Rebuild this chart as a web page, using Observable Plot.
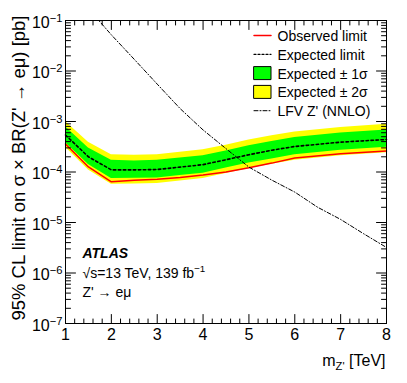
<!DOCTYPE html>
<html><head><meta charset="utf-8">
<script src="https://cdn.jsdelivr.net/npm/d3@7"></script>
<script src="https://cdn.jsdelivr.net/npm/@observablehq/plot@0.6"></script>
<style>
body{margin:0;background:#fff}
svg{font-family:"Liberation Sans",Arial,Helvetica,sans-serif}
</style>
</head><body><div id="chart"></div>
<script>
// ---- data ----
const mass      = [1, 1.5, 2, 2.5, 3, 3.5, 4, 4.5, 5, 5.5, 6, 7, 8];
const observed  = [3.6e-4, 1.26e-4, 6.4e-5, 6.9e-5, 7.2e-5, 7.8e-5, 8.7e-5, 1.0e-4, 1.22e-4, 1.5e-4, 1.9e-4, 2.3e-4, 2.6e-4];
const expected  = [5.4e-4, 2.0e-4, 1.1e-4, 1.1e-4, 1.12e-4, 1.25e-4, 1.4e-4, 1.75e-4, 2.2e-4, 2.7e-4, 3.2e-4, 3.9e-4, 4.4e-4];
const exp1Up    = [7.9e-4, 3.0e-4, 1.7e-4, 1.65e-4, 1.7e-4, 1.9e-4, 2.1e-4, 2.6e-4, 3.3e-4, 4.0e-4, 4.8e-4, 5.9e-4, 6.8e-4];
const exp1Down  = [3.8e-4, 1.4e-4, 7.4e-5, 7.5e-5, 7.6e-5, 8.5e-5, 9.5e-5, 1.2e-4, 1.5e-4, 1.8e-4, 2.2e-4, 2.7e-4, 3.1e-4];
const exp2Up    = [1.0e-3, 3.9e-4, 2.2e-4, 2.15e-4, 2.2e-4, 2.45e-4, 2.75e-4, 3.4e-4, 4.3e-4, 5.2e-4, 6.2e-4, 7.6e-4, 8.8e-4];
const exp2Down  = [3.1e-4, 1.1e-4, 5.7e-5, 5.8e-5, 5.9e-5, 6.6e-5, 7.4e-5, 9.3e-5, 1.17e-4, 1.43e-4, 1.7e-4, 2.1e-4, 2.4e-4];

const lfvMass   = [1.65, 2.0, 2.5, 3.0, 3.5, 4.0, 4.5, 5.0, 5.5, 6.0, 6.5, 7.0, 7.5, 8.0];
const lfvXsec   = [1.2e-1, 5.2e-2, 1.7e-2, 5.5e-3, 1.8e-3, 6.8e-4, 2.9e-4, 1.25e-4, 6.9e-5, 4.0e-5, 2.0e-5, 1.15e-5, 6.0e-6, 3.2e-6];

const xTickValues    = [1, 2, 3, 4, 5, 6, 7, 8];
const yTickExponents = [-7, -6, -5, -4, -3, -2, -1];

const legendLabels = ["Observed limit", "Expected limit", "Expected ± 1σ", "Expected ± 2σ", "LFV Z' (NNLO)"];
const yTitle = "95% CL limit on σ × BR(Z' → eμ) [pb]";
const xTitle = "m_{Z'} [TeV]";
const atlasLines = ["ATLAS", "√s=13 TeV, 139 fb^{-1}", "Z' → eμ"];

// ---- tables ----
const rows = mass.map((m, i) => ({m, obs: observed[i], exp: expected[i], u1: exp1Up[i], d1: exp1Down[i], u2: exp2Up[i], d2: exp2Down[i]}));
const lfv = lfvMass.map((m, i) => ({m, v: lfvXsec[i]}));
const yMajor = yTickExponents.map(e => Math.pow(10, e));
const yMinor = [];
yTickExponents.slice(0, -1).forEach(e => { for (let k = 2; k <= 9; k++) yMinor.push(k * Math.pow(10, e)); });
const xMinor = [];
for (let i = 0; i < xTickValues.length - 1; i++) for (let k = 1; k <= 4; k++) xMinor.push(+(xTickValues[i] + k * 0.2).toFixed(2));

const lineShape = {draw(ctx) { ctx.moveTo(-8.5, 0); ctx.lineTo(8.5, 0); }};
const boxShape  = {draw(ctx) { ctx.rect(-8.5, -6.5, 17, 13); }};
const tickShape = {draw(ctx, l) { ctx.moveTo(0, 0); ctx.lineTo(0, -l); }};

const LX = -124, TX = -109, LY0 = 15, LDY = 18.8;
const one = [0];
const legendSym = [
  {shape: lineShape, stroke: "#ff0000", strokeWidth: 1.5},
  {shape: lineShape, stroke: "#000", strokeWidth: 1.3, strokeDasharray: "2,2"},
  {shape: boxShape, stroke: "#000", strokeWidth: 1, fill: "#00ff00"},
  {shape: boxShape, stroke: "#000", strokeWidth: 1, fill: "#ffff00"},
  {shape: lineShape, stroke: "#000", strokeWidth: 1, strokeDasharray: "4,2,1,2"}
];

const tick = (data, chan, anchor, rot, len) =>
  Plot.vector(data, {[chan]: d => d, frameAnchor: anchor, rotate: rot, length: len, anchor: "start", shape: tickShape, stroke: "#000", strokeWidth: 1});

const marks = [
  Plot.areaY(rows, {x: "m", y1: "d2", y2: "u2", fill: "#ffff00"}),
  Plot.areaY(rows, {x: "m", y1: "d1", y2: "u1", fill: "#00ff00"}),
  Plot.line(rows, {x: "m", y: "obs", stroke: "#ff0000", strokeWidth: 1.5}),
  Plot.line(rows, {x: "m", y: "exp", stroke: "#000", strokeWidth: 1.6, strokeDasharray: "2.5,2.5"}),
  Plot.line(lfv, {x: "m", y: "v", stroke: "#000", strokeWidth: 1, strokeDasharray: "4,2,1,2", clip: true}),
  Plot.frame({stroke: "#000", strokeWidth: 1}),
  // ticks (inside, all four sides)
  tick(yMajor, "y", "left", 90, 10), tick(yMinor, "y", "left", 90, 5),
  tick(yMajor, "y", "right", -90, 10), tick(yMinor, "y", "right", -90, 5),
  tick(xTickValues, "x", "bottom", 0, 9), tick(xMinor, "x", "bottom", 0, 4.5),
  tick(xTickValues, "x", "top", 180, 9), tick(xMinor, "x", "top", 180, 4.5),
  // tick labels
  Plot.text(yMajor, {y: d => d, frameAnchor: "left", dx: -3, dy: 2, textAnchor: "end", lineAnchor: "middle", text: (d, i) => "10^{" + yTickExponents[i] + "}", fontSize: 16, fill: "#000", className: "rich"}),
  Plot.text(xTickValues, {x: d => d, frameAnchor: "bottom", dy: 11, lineAnchor: "middle", text: d => String(d), fontSize: 16, fill: "#000"}),
  // axis titles
  Plot.text([xTitle], {frameAnchor: "bottom-right", dx: -1, dy: 42, textAnchor: "end", lineAnchor: "bottom", text: d => d, fontSize: 16, fill: "#000", className: "rich"}),
  Plot.text([yTitle], {frameAnchor: "top-left", dx: -41, dy: -5, rotate: -90, textAnchor: "end", lineAnchor: "bottom", text: d => d, fontSize: 18.5, fill: "#000"}),
  // ATLAS label
  Plot.text([atlasLines[0]], {frameAnchor: "bottom-left", dx: 17, dy: -66, textAnchor: "start", lineAnchor: "bottom", text: d => d, fontSize: 14, fontWeight: "bold", fontStyle: "italic", fill: "#000"}),
  Plot.text([atlasLines[1]], {frameAnchor: "bottom-left", dx: 17, dy: -46, textAnchor: "start", lineAnchor: "bottom", text: d => d, fontSize: 14, fill: "#000", className: "rich"}),
  Plot.text([atlasLines[2]], {frameAnchor: "bottom-left", dx: 17, dy: -27, textAnchor: "start", lineAnchor: "bottom", text: d => d, fontSize: 14, fill: "#000"}),
  // legend
  ...legendSym.map((s, i) => Plot.vector(one, {frameAnchor: "top-right", dx: LX, dy: LY0 + i * LDY, anchor: "start", ...s})),
  ...legendLabels.map((lab, i) => Plot.text([lab], {frameAnchor: "top-right", dx: TX, dy: LY0 + i * LDY + 1, textAnchor: "start", lineAnchor: "middle", text: d => d, fontSize: 14, fill: "#000"}))
];

const svg = Plot.plot({
  width: 407, height: 383,
  marginLeft: 65, marginRight: 21, marginTop: 20, marginBottom: 60,
  x: {domain: [1, 8], axis: null},
  y: {type: "log", domain: [1e-7, 1e-1], axis: null},
  style: {fontFamily: "'Liberation Sans', Arial, Helvetica, sans-serif", background: "white", overflow: "visible"},
  marks
});

// rich text: ^{..} superscripts and _{..} subscripts
d3.select(svg).selectAll("g.rich text").each(function() {
  const el = d3.select(this);
  const s = el.text();
  if (!/[\^_]\{/.test(s)) return;
  const parts = s.split(/([\^_]\{[^}]*\})/).filter(p => p.length);
  el.text("");
  let shift = 0;
  for (const p of parts) {
    const m = p.match(/^([\^_])\{([^}]*)\}$/);
    if (m) {
      const target = m[1] === "^" ? -6 : 4;
      el.append("tspan").attr("dy", target - shift).attr("font-size", "0.7em").text(m[2].replace("-", "−"));
      shift = target;
    } else {
      const ts = el.append("tspan").text(p);
      if (shift) ts.attr("dy", -shift);
      shift = 0;
    }
  }
});

document.getElementById("chart").append(svg);
</script>
</body></html>
